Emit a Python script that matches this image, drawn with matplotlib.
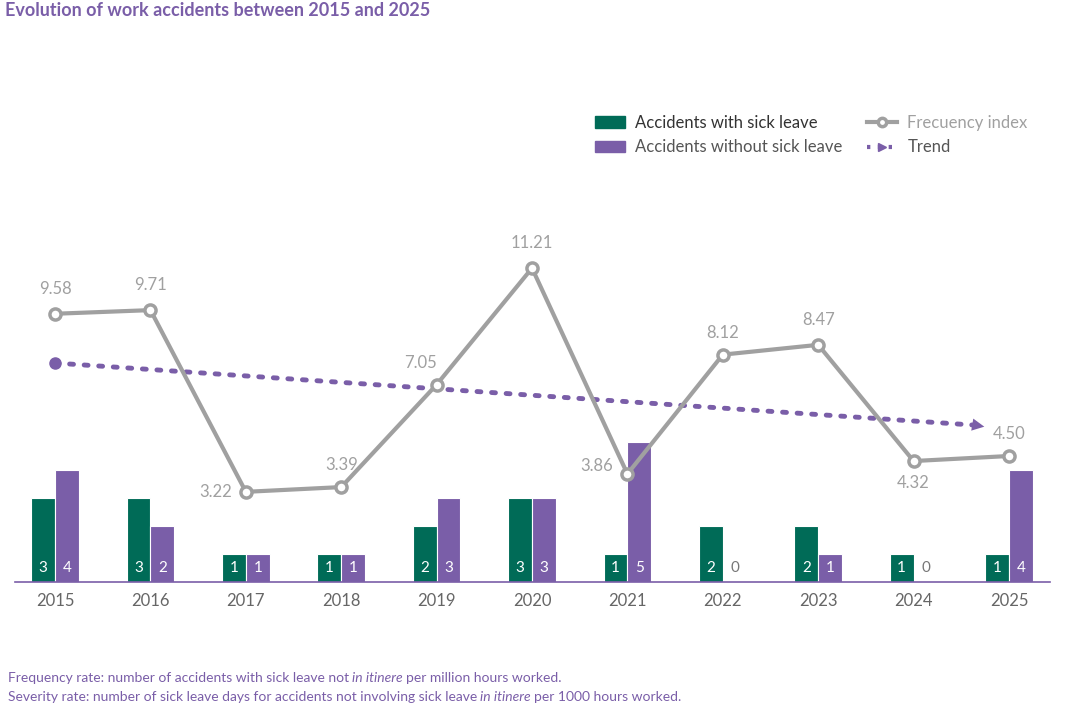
import numpy as np
import matplotlib
matplotlib.use("Agg")
from matplotlib import pyplot as plt
from matplotlib.lines import Line2D
from matplotlib.patches import Patch

plt.rcParams['font.family'] = ['Lato', 'DejaVu Sans']

years = ['2015', '2016', '2017', '2018', '2019', '2020', '2021', '2022', '2023', '2024', '2025']
with_leave = [3, 3, 1, 1, 2, 3, 1, 2, 2, 1, 1]
without_leave = [4, 2, 1, 1, 3, 3, 5, 0, 1, 0, 4]
freq_index = [9.58, 9.71, 3.22, 3.39, 7.05, 11.21, 3.86, 8.12, 8.47, 4.32, 4.50]
trend_x = [0, 9.65]
trend_y = [7.82, 5.6]

GREEN = '#006B57'
PURPLE = '#7A5EA8'
GREY = '#A0A0A0'

W, H = 1087, 709
fig = plt.figure(figsize=(W / 100, H / 100), dpi=100)
ax = fig.add_axes([15 / W, 1 - 582 / H, 1035 / W, 522 / H])
x = np.arange(len(years))
bw = 0.25

ax.bar(x - bw / 2, with_leave, bw, color=GREEN, edgecolor='white', linewidth=0.8)
ax.bar(x + bw / 2, without_leave, bw, color=PURPLE, edgecolor='white', linewidth=0.8)
for i in x:
    for off, v in ((-bw / 2, with_leave[i]), (bw / 2, without_leave[i])):
        if v > 0:
            ax.text(i + off, 0.5, str(v), color='white', ha='center', va='center', fontsize=11)
        else:
            ax.text(i + off, 0.5, str(v), color='#777777', ha='center', va='center', fontsize=11)

# trend
ax.plot(trend_x, trend_y, color=PURPLE, linestyle=(0, (0.8, 2.2)), linewidth=3.5,
        dash_capstyle='round')
ax.plot(trend_x[0], trend_y[0], 'o', color=PURPLE, markersize=8)
ax.annotate('', xy=(trend_x[1] + 0.12, trend_y[1] - 0.07), xytext=(trend_x[1], trend_y[1]),
            arrowprops=dict(arrowstyle='-|>', color=PURPLE, mutation_scale=22, lw=0))

# frequency index
ax.plot(x, freq_index, color=GREY, linewidth=3, marker='o', markersize=8,
        markerfacecolor='white', markeredgecolor=GREY, markeredgewidth=2.5, zorder=5)
offsets = [(0, 12, 'center', 'bottom'), (0, 12, 'center', 'bottom'), (-10, 0, 'right', 'center'),
           (0, 10, 'center', 'bottom'), (0, 10, 'right', 'bottom'), (0, 12, 'center', 'bottom'),
           (-10, 0, 'right', 'bottom'), (0, 10, 'center', 'bottom'), (0, 12, 'center', 'bottom'),
           (0, -10, 'center', 'top'), (0, 10, 'center', 'bottom')]
for i, v in enumerate(freq_index):
    dx, dy, ha, va = offsets[i]
    ax.annotate(f'{v:.2f}', (i, v), xytext=(dx, dy), textcoords='offset points',
                ha=ha, va=va, color=GREY, fontsize=12)

ax.set_xlim(-0.42, 10.43)
ax.set_ylim(0, 522 / 28)
ax.set_xticks(x, years)
ax.tick_params(axis='x', length=0, labelsize=12, labelcolor='#666666', pad=8)
ax.set_yticks([])
for s in ['top', 'right', 'left']:
    ax.spines[s].set_visible(False)
ax.spines['bottom'].set_color(PURPLE)
ax.spines['bottom'].set_linewidth(1.2)

handles = [Patch(color=GREEN), Patch(color=PURPLE),
           Line2D([], [], color=GREY, lw=3, marker='o', markerfacecolor='white', markeredgewidth=2.5),
           Line2D([], [], color=PURPLE, lw=3, linestyle=(0, (0.8, 1.8)), marker='>', markevery=[1])]
labels = ['Accidents with sick leave', 'Accidents without sick leave', 'Frecuency index', 'Trend']
fig.legend(handles, labels, ncol=2, loc='upper left', bbox_to_anchor=(580 / W, 1 - 100 / H),
           frameon=False, fontsize=12, handlelength=1.8, columnspacing=1.5, handletextpad=0.6,
           labelcolor=['#333333', '#555555', GREY, '#555555'])

fig.text(5 / W, 1 - 10 / H, 'Evolution of work accidents between 2015 and 2025', color=PURPLE,
         fontsize=13, fontweight='bold', va='center')

fig.canvas.draw()
r = fig.canvas.get_renderer()
def rich(y, parts):
    xp = 8
    for t, it in parts:
        tx = fig.text(xp / W, 1 - y / H, t, fontsize=10, color='#7A5EA8',
                      style='italic' if it else 'normal', va='center')
        xp = tx.get_window_extent(r).x1 + 3
rich(678, [('Frequency rate: number of accidents with sick leave not', False), ('in itinere', True),
           ('per million hours worked.', False)])
rich(697, [('Severity rate: number of sick leave days for accidents not involving sick leave', False),
           ('in itinere', True), ('per 1000 hours worked.', False)])

fig.savefig('out.png', dpi=100)
